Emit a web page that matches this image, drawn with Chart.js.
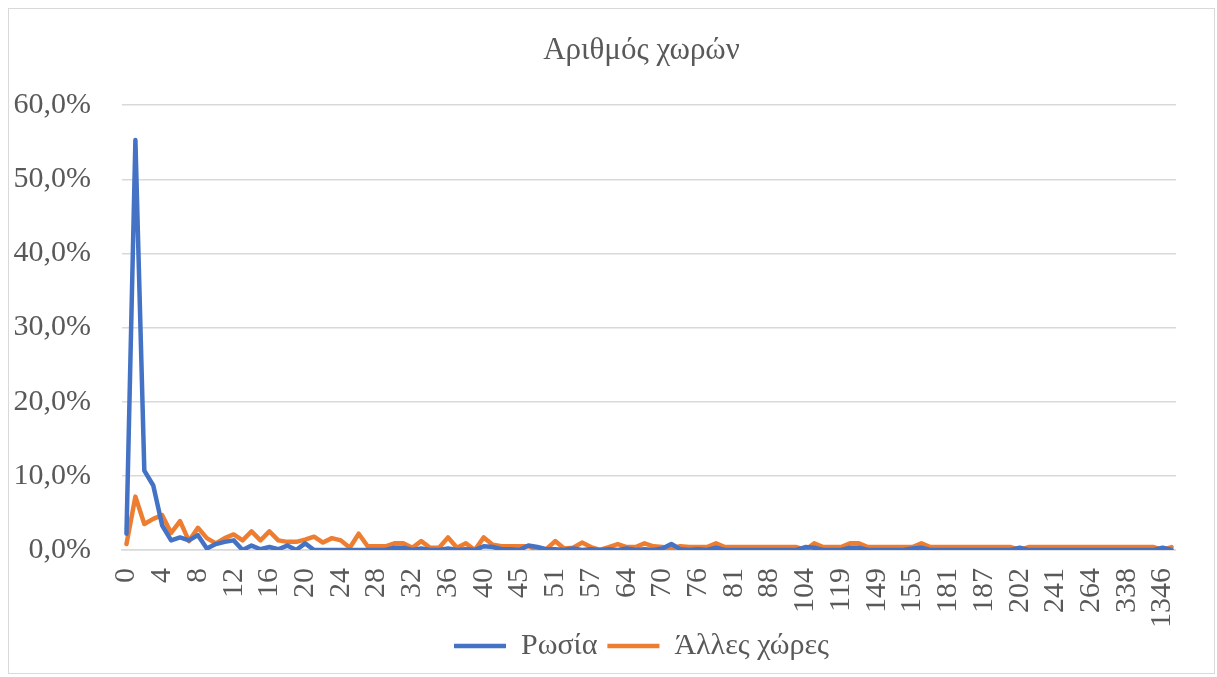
<!DOCTYPE html>
<html>
<head>
<meta charset="utf-8">
<script src="https://cdn.jsdelivr.net/npm/chart.js@4/dist/chart.umd.min.js"></script>
<style>
  html, body { margin: 0; padding: 0; background: #fff; }
  #wrap { position: relative; width: 1217px; height: 677px; }
  #frame { position: absolute; left: 8px; top: 8px; width: 1205px; height: 664px; border: 1px solid #d9d9d9; pointer-events: none; }
</style>
</head>
<body>
<div id="wrap">
  <canvas id="roomsChart" width="1217" height="677"></canvas>
  <div id="frame"></div>
</div>
<script>
// Αριθμός χωρών (number of countries) – share of cases, %
const categories = [
  0, 1, 2, 3, 4, 5, 6, 7, 8, 9, 10, 11, 12, 13, 14, 15, 16, 17, 18, 19,
  20, 21, 22, 23, 24, 25, 26, 27, 28, 29, 30, 31, 32, 33, 34, 35, 36, 37, 38, 39,
  40, 41, 42, 43, 45, 46, 48, 50, 51, 52, 54, 55, 57, 60, 61, 62, 64, 65, 67, 69,
  70, 72, 73, 75, 76, 77, 78, 80, 81, 83, 85, 87, 88, 90, 95, 100, 104, 107, 110, 115,
  119, 124, 130, 140, 149, 150, 152, 153, 155, 160, 168, 175, 181, 183, 184, 186, 187, 190, 195, 198,
  202, 210, 220, 232, 241, 250, 255, 260, 264, 280, 300, 320, 338, 400, 520, 780, 1346, 2100
];

const russia = [
  2.2, 55.3, 10.7, 8.7, 3.3, 1.3, 1.7, 1.3, 2.0, 0.2, 0.8, 1.1, 1.3, 0.0, 0.6, 0.1, 0.4, 0.1, 0.6, 0.0,
  0.9, 0.0, 0.0, 0.0, 0.0, 0.0, 0.0, 0.0, 0.0, 0.0, 0.3, 0.3, 0.0, 0.2, 0.0, 0.0, 0.2, 0.0, 0.1, 0.0,
  0.5, 0.4, 0.1, 0.1, 0.0, 0.6, 0.4, 0.1, 0.1, 0.0, 0.2, 0.0, 0.1, 0.0, 0.1, 0.0, 0.2, 0.0, 0.1, 0.0,
  0.2, 0.8, 0.1, 0.0, 0.1, 0.0, 0.3, 0.0, 0.0, 0.0, 0.0, 0.0, 0.0, 0.0, 0.0, 0.0, 0.4, 0.3, 0.0, 0.0,
  0.0, 0.3, 0.3, 0.0, 0.0, 0.0, 0.0, 0.0, 0.2, 0.3, 0.0, 0.0, 0.0, 0.0, 0.0, 0.0, 0.0, 0.0, 0.0, 0.0,
  0.3, 0.0, 0.0, 0.0, 0.0, 0.0, 0.0, 0.0, 0.0, 0.0, 0.0, 0.0, 0.0, 0.0, 0.0, 0.0, 0.3, 0.0
];

const otherCountries = [
  0.8, 7.2, 3.5, 4.2, 4.7, 2.3, 3.9, 1.2, 3.0, 1.6, 0.9, 1.6, 2.1, 1.3, 2.5, 1.3, 2.5, 1.3, 1.1, 1.1,
  1.4, 1.8, 1.0, 1.6, 1.3, 0.3, 2.2, 0.5, 0.5, 0.5, 0.9, 0.9, 0.3, 1.2, 0.3, 0.3, 1.7, 0.3, 0.9, 0.0,
  1.7, 0.7, 0.5, 0.5, 0.5, 0.5, 0.0, 0.1, 1.2, 0.2, 0.3, 1.0, 0.4, 0.0, 0.4, 0.8, 0.4, 0.4, 0.9, 0.5,
  0.4, 0.2, 0.5, 0.4, 0.4, 0.4, 0.9, 0.4, 0.4, 0.4, 0.4, 0.4, 0.4, 0.4, 0.4, 0.4, 0.0, 0.9, 0.4, 0.4,
  0.4, 0.9, 0.9, 0.4, 0.4, 0.4, 0.4, 0.4, 0.4, 0.9, 0.4, 0.4, 0.4, 0.4, 0.4, 0.4, 0.4, 0.4, 0.4, 0.4,
  0.0, 0.4, 0.4, 0.4, 0.4, 0.4, 0.4, 0.4, 0.4, 0.4, 0.4, 0.4, 0.4, 0.4, 0.4, 0.4, 0.0, 0.4
];

const yTicks = [0, 10, 20, 30, 40, 50, 60];

const serif = '"Liberation Serif", "Times New Roman", serif';
const textColor = '#595959';

// tick labels reach outside their scale box here, so switch off the label clipping
const noLabelClip = scale => { scale._computeLabelArea = () => null; };

new Chart(document.getElementById('roomsChart'), {
    type: 'line',
    data: {
        labels: categories.map(String),
        datasets: [
            {
                label: 'Ρωσία',
                data: russia,
                borderColor: '#4472C4',
                backgroundColor: '#4472C4',
                borderWidth: 4.5,
                borderJoinStyle: 'round',
                borderCapStyle: 'round',
                pointRadius: 0,
                pointStyle: 'line',
                tension: 0
            },
            {
                label: 'Άλλες χώρες',
                data: otherCountries,
                borderColor: '#ED7D31',
                backgroundColor: '#ED7D31',
                borderWidth: 4.5,
                borderJoinStyle: 'round',
                borderCapStyle: 'round',
                pointRadius: 0,
                pointStyle: 'line',
                tension: 0
            }
        ]
    },
    options: {
        responsive: false,
        animation: false,
        layout: { padding: { left: 66, right: 0, top: 0, bottom: 6 } },
        plugins: {
            title: {
                display: true,
                text: 'Αριθμός χωρών',
                color: textColor,
                font: { family: serif, size: 31, weight: 'normal' },
                padding: { top: 32, bottom: 36 }
            },
            legend: {
                position: 'bottom',
                labels: {
                    color: textColor,
                    font: { family: serif, size: 30 },
                    usePointStyle: true,
                    pointStyleWidth: 52,
                    padding: 10
                }
            },
            tooltip: { enabled: false }
        },
        scales: {
            x: {
                offset: true,
                grid: { display: false, drawTicks: false },
                border: { display: true, color: '#d9d9d9', width: 1.5 },
                ticks: {
                    autoSkip: false,
                    minRotation: 90,
                    maxRotation: 90,
                    padding: 18,
                    color: textColor,
                    font: { family: serif, size: 30 },
                    callback: function (value, index) {
                        return index % 4 === 0 ? this.getLabelForValue(value) : null;
                    }
                },
                afterFit: scale => { scale.height = 71; noLabelClip(scale); }
            },
            y: {
                min: 0,
                max: 60,
                afterBuildTicks: scale => { scale.ticks = yTicks.map(v => ({ value: v })); },
                grid: { color: '#d9d9d9', lineWidth: 1.5, drawTicks: false },
                border: { display: false },
                ticks: {
                    padding: 31,
                    color: textColor,
                    font: { family: serif, size: 30 },
                    callback: v => v.toFixed(1).replace('.', ',') + '%'
                },
                afterFit: scale => { scale.width = 56; noLabelClip(scale); }
            },
            rightGap: {
                type: 'linear',
                position: 'right',
                display: true,
                grid: { display: false, drawTicks: false },
                border: { display: false },
                ticks: { display: false },
                afterFit: scale => { scale.width = 32; }
            }
        }
    }
});
</script>
</body>
</html>
